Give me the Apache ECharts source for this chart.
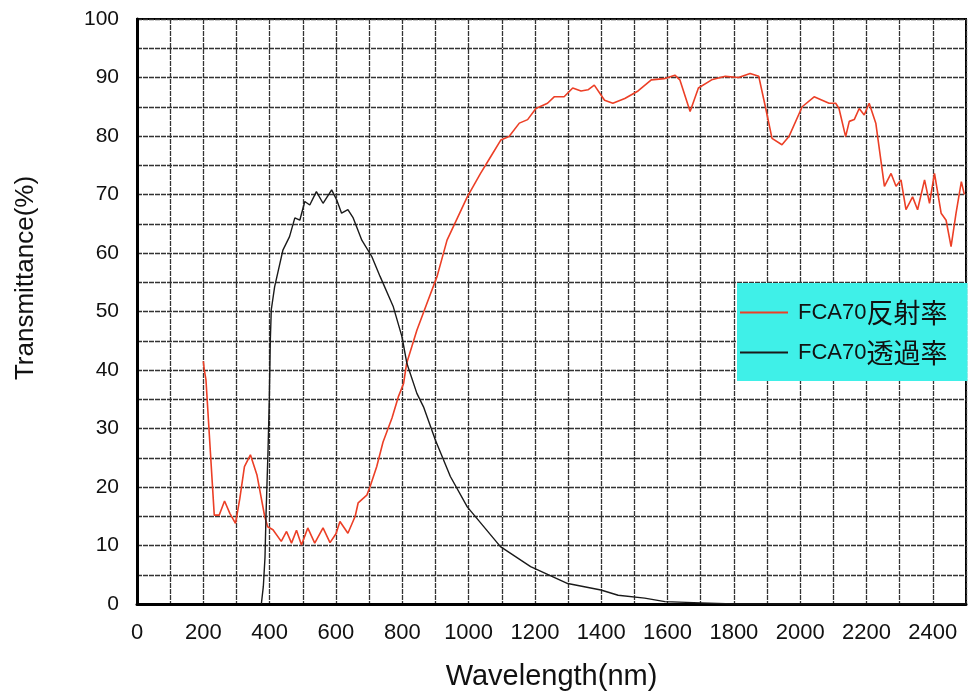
<!DOCTYPE html>
<html>
<head>
<meta charset="utf-8">
<script src="https://cdn.jsdelivr.net/npm/echarts@6/dist/echarts.min.js"></script>
<style>
  html, body { margin: 0; padding: 0; background: #fff; }
  #chart { width: 977px; height: 697px; }
</style>
</head>
<body>
<div id="chart"></div>
<script>
// FCA70 reflectance (red)
const reflectNm = [200, 203, 208, 233, 248, 264, 280, 297, 310, 324, 342, 362, 385, 394, 410, 435, 451, 466, 481, 496, 515, 536, 561, 582, 600, 612, 636, 658, 667, 693, 703, 723, 742, 769, 788, 804, 813, 844, 875, 905, 935, 996, 1036, 1067, 1097, 1122, 1153, 1178, 1203, 1238, 1258, 1288, 1314, 1339, 1360, 1379, 1410, 1435, 1471, 1511, 1551, 1590, 1622, 1637, 1668, 1693, 1733, 1774, 1814, 1849, 1875, 1895, 1915, 1945, 1966, 2006, 2042, 2087, 2107, 2117, 2137, 2148, 2163, 2178, 2193, 2208, 2228, 2254, 2274, 2289, 2304, 2319, 2339, 2354, 2375, 2390, 2405, 2425, 2440, 2455, 2470, 2486, 2495];
const reflectPct = [41.5, 40, 38.3, 15.2, 15.2, 17.6, 15.5, 13.8, 18, 23.5, 25.5, 22, 15, 13.2, 12.7, 10.7, 12.4, 10.4, 12.6, 10.1, 13.0, 10.4, 13.0, 10.5, 12, 14.1, 12.1, 15, 17.3, 18.6, 20.1, 23.5, 27.7, 31.8, 35.4, 37.7, 41.1, 46.8, 51.5, 56, 62.2, 69.6, 73.6, 76.5, 79.3, 79.9, 82.2, 82.8, 84.7, 85.6, 86.7, 86.7, 88.2, 87.7, 87.9, 88.7, 86.1, 85.6, 86.4, 87.7, 89.6, 89.8, 90.4, 89.6, 84.2, 88.2, 89.6, 90.2, 90.0, 90.7, 90.2, 85.0, 79.6, 78.5, 79.9, 85.0, 86.7, 85.6, 85.6, 84.7, 79.9, 82.5, 82.8, 84.7, 83.6, 85.6, 82.2, 71.4, 73.6, 71.4, 72.5, 67.4, 69.6, 67.4, 72.5, 68.5, 73.6, 66.8, 65.6, 61.1, 66.8, 72.2, 70];

// FCA70 transmittance (black)
const transNm = [375, 381, 386, 389, 395, 399, 402, 405, 415, 440, 460, 476, 491, 506, 521, 541, 561, 587, 602, 617, 636, 652, 678, 708, 733, 773, 799, 814, 844, 864, 900, 945, 996, 1096, 1187, 1299, 1399, 1451, 1531, 1592, 1700, 1800, 2000, 2200, 2500];
const transPct = [0, 3, 8, 15, 26, 35, 45, 50.3, 54.2, 60.5, 62.8, 66, 65.6, 68.8, 68.2, 70.5, 68.5, 70.8, 69.1, 66.8, 67.4, 66, 62.2, 59.4, 56, 50.8, 45.7, 41.1, 36, 33.7, 28, 21.8, 16.6, 9.8, 6.4, 3.5, 2.4, 1.5, 1.0, 0.4, 0.2, 0, 0, 0, 0];

const seriesNames = ['FCA70反射率', 'FCA70透過率'];

const pairs = (xs, ys) => xs.map((x, i) => [x, ys[i]]);

const chart = echarts.init(document.getElementById('chart'));

const gridLine = { show: true, lineStyle: { color: '#333', width: 1.3, type: [5, 1] } };
const font = 'Liberation Sans, Arial, sans-serif';

chart.setOption({
  backgroundColor: '#fff',
  animation: false,
  grid: {
    left: 137, right: 11, top: 19, bottom: 93,
    show: true, borderColor: '#000', borderWidth: 2
  },
  legend: {
    orient: 'vertical',
    left: 737,
    top: 283,
    backgroundColor: '#3ff0e8',
    padding: [16, 20, 15, 3],
    itemGap: 13,
    itemWidth: 48,
    itemHeight: 2,
    icon: 'rect',
    formatter: name => '{a|' + name.slice(0, 5) + '}{b|' + name.slice(5) + '}',
    textStyle: {
      color: '#111',
      rich: {
        a: { fontFamily: font, fontSize: 22, color: '#111', lineHeight: 28, padding: [0, 0, 0, 5] },
        b: { fontFamily: 'Noto Sans CJK JP, sans-serif', fontSize: 27, color: '#111', lineHeight: 28 }
      }
    },
    data: seriesNames
  },
  xAxis: {
    type: 'value',
    min: 0,
    max: 2500,
    interval: 100,
    name: 'Wavelength(nm)',
    nameLocation: 'middle',
    nameGap: 58,
    nameTextStyle: { fontFamily: font, fontSize: 29, color: '#111' },
    axisLine: { show: true, lineStyle: { color: '#000', width: 3 } },
    axisTick: { show: false },
    axisLabel: {
      margin: 18,
      fontFamily: font, fontSize: 22, color: '#111',
      showMaxLabel: false,
      formatter: v => (v % 200 === 0 ? String(v) : '')
    },
    splitLine: gridLine
  },
  yAxis: {
    type: 'value',
    min: 0,
    max: 100,
    interval: 5,
    name: 'Transmittance(%)',
    nameLocation: 'middle',
    nameGap: 98,
    nameTextStyle: { fontFamily: font, fontSize: 26, color: '#111', padding: [0, 0, 0, 67] },
    axisLine: { show: true, lineStyle: { color: '#000', width: 3 } },
    axisTick: { show: false },
    axisLabel: {
      margin: 18,
      fontFamily: font, fontSize: 21, color: '#111',
      formatter: v => (v % 10 === 0 ? String(v) : '')
    },
    splitLine: gridLine
  },
  series: [
    {
      name: seriesNames[0],
      type: 'line',
      symbol: 'none',
      z: 3,
      color: '#ec3f26',
      lineStyle: { color: '#ec3f26', width: 1.6 },
      data: pairs(reflectNm, reflectPct)
    },
    {
      name: seriesNames[1],
      type: 'line',
      symbol: 'none',
      z: 4,
      color: '#1a1a1a',
      lineStyle: { color: '#1a1a1a', width: 1.4 },
      data: pairs(transNm, transPct)
    }
  ]
});
</script>
</body>
</html>
